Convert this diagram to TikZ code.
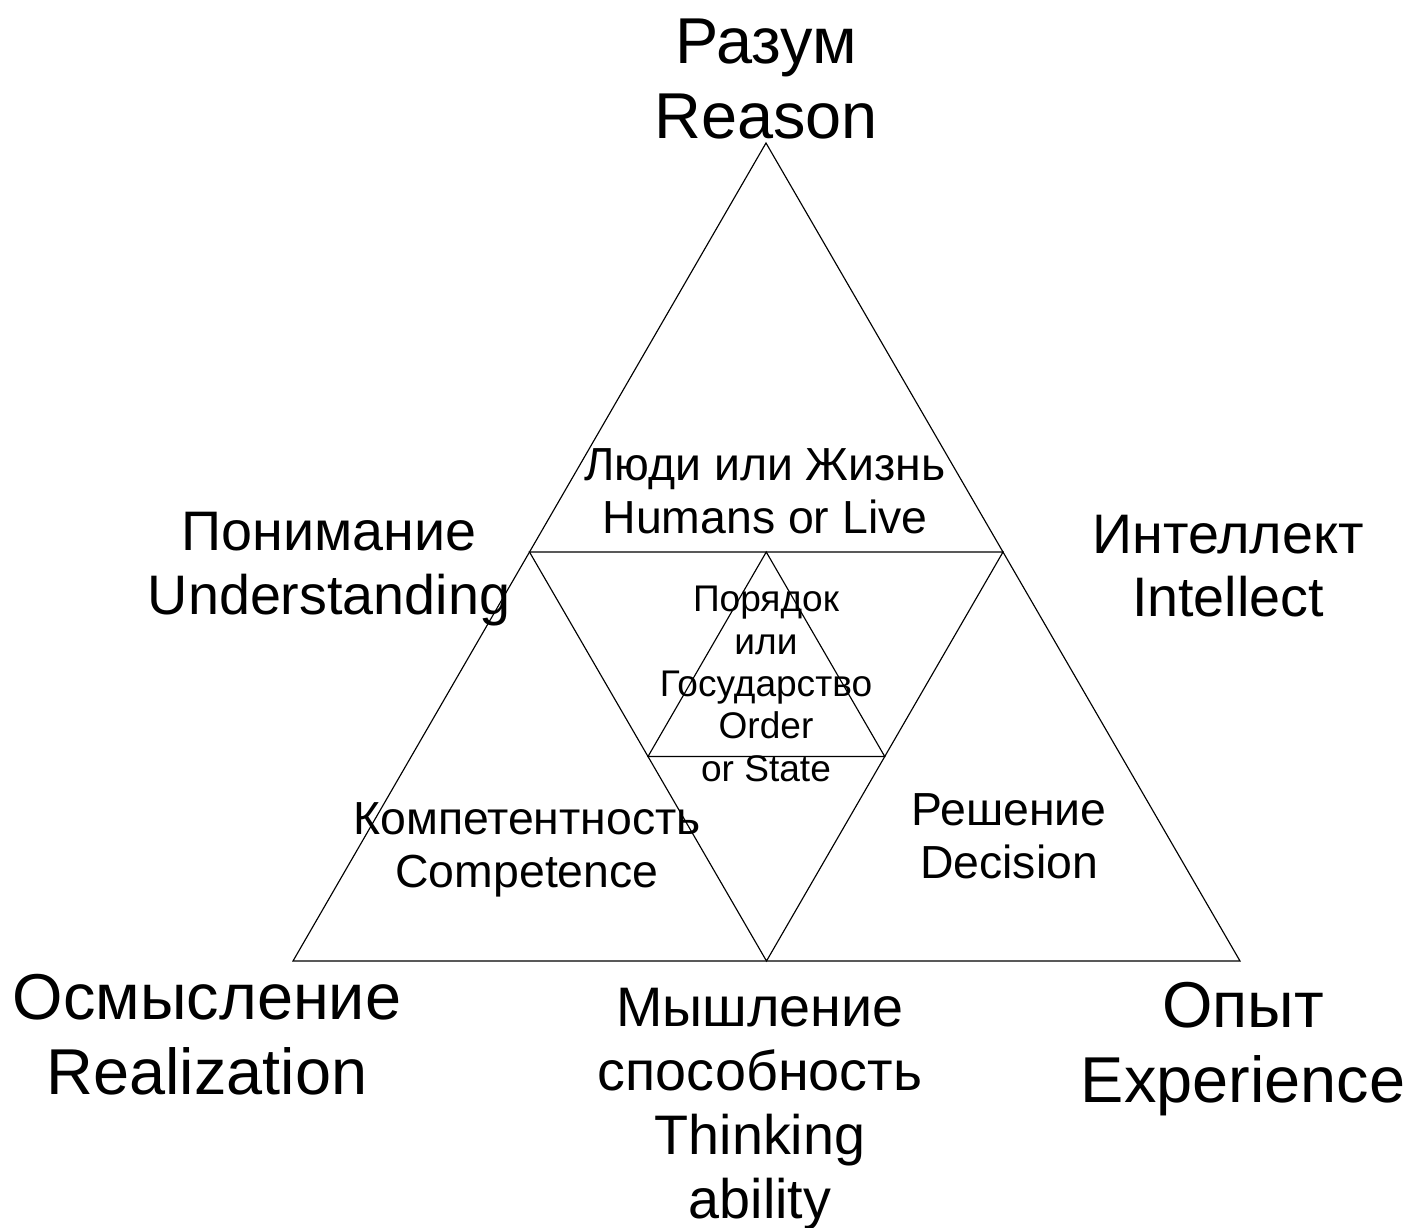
\documentclass[tikz,border=0pt]{standalone}
\usepackage{fontspec}
\setmainfont{Liberation Sans}
\usetikzlibrary{calc,positioning}

\begin{document}
\begin{tikzpicture}[x=0.02cm,y=-0.02cm,
  edge/.style={line width=0.65pt,black},
  cornerlab/.style={font=\fontsize{36.9}{42.5}\selectfont,align=center,inner sep=0pt},
  sidelab/.style={font=\fontsize{31.7}{36.3}\selectfont,align=center,inner sep=0pt},
  fieldlab/.style={font=\fontsize{26.4}{30.3}\selectfont,align=center,inner sep=0pt},
  corelab/.style={font=\fontsize{21.1}{24.1}\selectfont,align=center,inner sep=0pt}
]
\useasboundingbox (0,0) rectangle (1421,1228);
% outer triangle
\coordinate (apex) at (766,143);
\coordinate (left) at (293,961);
\coordinate (right) at (1240,961);
\coordinate (ml) at ($(apex)!0.5!(left)$);
\coordinate (mr) at ($(apex)!0.5!(right)$);
\coordinate (mb) at ($(left)!0.5!(right)$);
% inner triangles
\coordinate (ct) at ($(ml)!0.5!(mr)$);
\coordinate (cl) at ($(ml)!0.5!(mb)$);
\coordinate (cr) at ($(mr)!0.5!(mb)$);
\draw[edge] (apex) -- (left) -- (right) -- cycle;
\draw[edge] (ml) -- (mr) -- (mb) -- cycle;
\draw[edge] (ct) -- (cl) -- (cr) -- cycle;

% corner labels
\node[cornerlab] (reason) at (766,79) {Разум\\Reason};
\node[cornerlab] (realization) at (207,1035) {Осмысление\\Realization};
\node[cornerlab] (experience) at (1243,1049) {Опыт\\Experience};
% side labels
\node[sidelab] (understanding) at (329,569) {Понимание\\Understanding};
\node[sidelab] (intellect) at (1228,566) {Интеллект\\Intellect};
\node[sidelab] (thinking) at (760,1109) {Мышление\\способность\\Thinking\\ability};
% fields
\node[fieldlab] (humans) at (765,491) {Люди или Жизнь\\Humans or Live};
\node[fieldlab] (competence) at (527,850) {Компетентность\\Competence};
\node[fieldlab] (decision) at (1009,836) {Решение\\Decision};
\node[corelab] (order) at (766,684) {Порядок\\или\\Государство\\Order\\or State};
\end{tikzpicture}
\end{document}
